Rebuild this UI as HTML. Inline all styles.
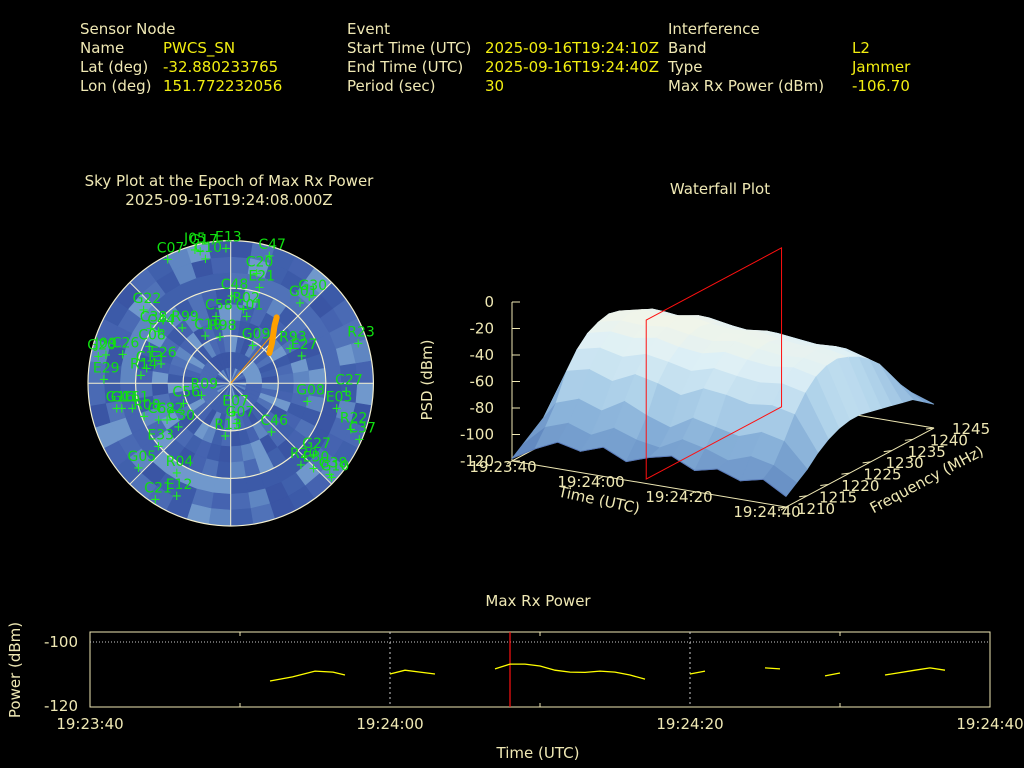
<!DOCTYPE html>
<html><head><meta charset="utf-8">
<style>
html,body{margin:0;padding:0;background:#000;}
svg{display:block;font-family:"DejaVu Sans","Liberation Sans",sans-serif;}
.lab{fill:#efe8b4;font-size:15px;}
.val{fill:#f2ee10;font-size:15px;}
.tk{fill:#efe8b4;font-size:15px;}
.sat{fill:#10e010;font-size:14px;}
</style></head>
<body>
<svg id="page" width="1024" height="768" viewBox="0 0 1024 768" xmlns="http://www.w3.org/2000/svg">
<rect width="1024" height="768" fill="#000"/>
<g>
 <text class="lab" x="80" y="34">Sensor Node</text>
 <text class="lab" x="80" y="53">Name</text>
 <text class="val" x="163" y="53">PWCS_SN</text>
 <text class="lab" x="80" y="72">Lat (deg)</text>
 <text class="val" x="163" y="72">-32.880233765</text>
 <text class="lab" x="80" y="91">Lon (deg)</text>
 <text class="val" x="163" y="91">151.772232056</text>
 <text class="lab" x="347" y="34">Event</text>
 <text class="lab" x="347" y="53">Start Time (UTC)</text>
 <text class="val" x="485" y="53">2025-09-16T19:24:10Z</text>
 <text class="lab" x="347" y="72">End Time (UTC)</text>
 <text class="val" x="485" y="72">2025-09-16T19:24:40Z</text>
 <text class="lab" x="347" y="91">Period (sec)</text>
 <text class="val" x="485" y="91">30</text>
 <text class="lab" x="668" y="34">Interference</text>
 <text class="lab" x="668" y="53">Band</text>
 <text class="val" x="852" y="53">L2</text>
 <text class="lab" x="668" y="72">Type</text>
 <text class="val" x="852" y="72">Jammer</text>
 <text class="lab" x="668" y="91">Max Rx Power (dBm)</text>
 <text class="val" x="852" y="91">-106.70</text>
</g>
<text class="lab" x="229" y="186" text-anchor="middle">Sky Plot at the Epoch of Max Rx Power</text>
<text class="lab" x="229" y="205" text-anchor="middle">2025-09-16T19:24:08.000Z</text>
<text class="lab" x="720" y="194" text-anchor="middle">Waterfall Plot</text>
<text class="lab" x="538" y="606" text-anchor="middle">Max Rx Power</text>
<g id="sky"></g>
<g id="wf"></g>
<g id="pw"></g>
</svg>
<script>
const NS="http://www.w3.org/2000/svg";
// ---- Sky plot data ----
const satNames=["C07","G17","C10","J05","E13","C47","C20","E21","C48","R02","C01","G30","G01","G22","C38","C44","R99","C58","C19","R98","G09","R93","E27","R23","G20","J09","C26","C08","E26","C13","R14","E29","R09","C56","C27","G08","E03","E07","G07","G16","G11","C61","R08","C62","C82","C30","R13","C46","E33","R22","C37","G27","R20","E30","G38","G10","G05","R04","C21","E12"];
const satAz=[333,347,348.5,345,358,16.9,13.3,16.7,0.7,9.7,13.5,42.4,40.7,310,304.5,305.5,318.7,347.6,331.8,347,30.3,59.5,69,72.6,281.4,282.8,285,294.3,285.5,280,275,271.8,247,247,94,103.4,103.3,175,171.5,257.6,257,255.7,249,243,240,230,185.8,140,228.8,111,113.5,131,139.3,135.8,132.7,133,227.4,211,213,205.6];
const satEl=[2.5,4.6,10,3,4.8,6.1,18.7,27,35,42.7,46.7,16.4,23,18.3,28.8,34,43.7,47,56,60,62.5,46.5,42,5.7,4.8,9.3,19.5,33.6,44.4,36.2,33.2,10,70,57.6,17,40.4,21.3,71.5,64.5,16.4,19.5,26,31.5,39,43.7,47,56.6,50,29.4,8.8,1.5,21,22,15,5,3,11,24,2.7,11.2];
const trailAz=[52,46,41,37,34.9];
const trailEl=[59,54,49,44,39.3];
// ---- Waterfall data ----
const wfTimes=[0,5,10,15,20,25,30,35,40,45,50,55,60];
const wfFreqs=[1210,1212.5,1215,1217.5,1220,1222.5,1225,1227.5,1230,1232.5,1235,1237.5,1240,1242.5,1245];
const wfPsd=[
[-118,-108,-100,-104,-98,-106,-100,-96,-104,-100,-106,-102,-112],
[-112,-96,-90,-96,-88,-94,-97,-88,-92,-98,-92,-96,-106],
[-106,-82,-76,-82,-72,-80,-86,-76,-80,-84,-78,-82,-100],
[-100,-62,-58,-64,-56,-60,-66,-58,-60,-64,-62,-66,-92],
[-96,-50,-46,-50,-45,-48,-52,-47,-50,-52,-50,-54,-86],
[-94,-42,-38,-40,-37,-41,-43,-39,-42,-44,-42,-46,-82],
[-92,-38,-34,-35,-33,-36,-38,-35,-38,-40,-39,-42,-80],
[-92,-36,-32,-33,-31,-34,-36,-34,-37,-39,-38,-41,-80],
[-94,-38,-34,-36,-33,-36,-38,-36,-39,-41,-40,-44,-82],
[-96,-42,-38,-40,-37,-40,-42,-40,-43,-44,-43,-48,-84],
[-98,-48,-44,-46,-43,-46,-48,-46,-48,-50,-49,-54,-86],
[-100,-60,-56,-58,-54,-58,-60,-56,-58,-60,-58,-62,-88],
[-102,-72,-68,-70,-66,-70,-72,-68,-70,-72,-70,-74,-90],
[-106,-82,-80,-82,-78,-82,-84,-80,-82,-84,-82,-86,-96],
[-110,-92,-90,-92,-89,-92,-94,-90,-92,-94,-92,-96,-102]];
const wfZTicks=[0,-20,-40,-60,-80,-100,-120];
const wfTimeTicks=[0,20,40,60];
const wfTimeLabels=["19:23:40","19:24:00","19:24:20","19:24:40"];
const wfFreqTicks=[1210,1215,1220,1225,1230,1235,1240,1245];
const markerTime=28;
// ---- Power data ----
const pwSegT=[[12,13.5,15,16.2,17],[20,21,22,23],[27,28,29,30,31,32,33,34,35,36,37],[40,41],[45,46],[49,50],[53,55,56,57]];
const pwSegV=[[-112.2,-110.9,-109.1,-109.4,-110.3],[-110,-108.8,-109.4,-110],[-108.4,-106.9,-106.9,-107.5,-108.8,-109.4,-109.5,-109.1,-109.4,-110.3,-111.6],[-110,-109.1],[-108.1,-108.4],[-110.6,-109.7],[-110.3,-108.8,-108.1,-108.8]];
const pwXTicks=[0,20,40,60];
const pwXLabels=["19:23:40","19:24:00","19:24:20","19:24:40"];
const pwYTicks=[-100,-120];

function mk(tag,attrs,parent){const e=document.createElementNS(NS,tag);for(const k in attrs)e.setAttribute(k,attrs[k]);parent.appendChild(e);return e;}

// ===== Sky plot =====
(function(){
 const g=document.getElementById('sky');
 const cx=230.7,cy=383.3,R=142.7;
 const pol=(az,el)=>{const r=R*(90-el)/90,a=az*Math.PI/180;return [cx+r*Math.sin(a),cy-r*Math.cos(a)];};
 const blues=["#3a55a4","#4563b0","#5072b8","#3c5aa8","#5f86c2","#4a6ab4","#7098cc","#4060ac"];
 for(let ri=0;ri<9;ri++){for(let ai=0;ai<40;ai++){
  const r0=R*ri/9,r1=R*(ri+1)/9,a0=ai*9,a1=a0+9.3;
  const p=(r,a)=>{const t=a*Math.PI/180;return (cx+r*Math.sin(t)).toFixed(1)+","+(cy-r*Math.cos(t)).toFixed(1);};
  const c=blues[(ai*7+ri*3+(ai*ri)%5)%8];
  const cell=mk('polygon',{points:[p(r0,a0),p(r1,a0),p(r1,(a0+a1)/2),p(r1,a1),p(r0,a1)].join(" "),fill:c,stroke:c,'stroke-width':0.6},g);
  
  
 }}
 [R,R*60/90,R*30/90].forEach(r=>{const c=mk('circle',{cx:cx,cy:cy,r:r,fill:'none',stroke:'#f4f0d0','stroke-width':1.2},g);
  });
 [0,45,90,135].forEach(a=>{const p1=pol(a,0),p2=pol(a+180,0);
  const l=mk('line',{x1:p1[0],y1:p1[1],x2:p2[0],y2:p2[1],stroke:'#f4f0d0','stroke-width':1},g);
  });
 const thin=mk('line',{x1:cx,y1:cy,x2:pol(40.5,50)[0],y2:pol(40.5,50)[1],stroke:'#ff9900','stroke-width':1},g);
 
 const pts=trailAz.map((a,i)=>pol(a,trailEl[i]).map(v=>v.toFixed(1)).join(",")).join(" ");
 const tr=mk('polyline',{points:pts,fill:'none',stroke:'#ffa000','stroke-width':6,'stroke-linecap':'round'},g);
 
 satNames.forEach((n,i)=>{const [x,y]=pol(satAz[i],satEl[i]);
  const m=mk('text',{x:x,y:y+4,'text-anchor':'middle',fill:'#20f020','font-size':13},g);m.textContent='+';
  
  const t=mk('text',{x:x-11,y:y-7,class:'sat'},g);t.textContent=n;
  });
})();

// ===== Waterfall =====
(function(){
 const g=document.getElementById('wf');
 const P=(t,f,z)=>[512+4.567*t+4.229*(f-1210),461+0.767*t-2.257*(f-1210)-1.325*(z+120)];
 const ax='#efe8b4';
 const line=(a,b,col,name,w)=>{const l=mk('line',{x1:a[0],y1:a[1],x2:b[0],y2:b[1],stroke:col,'stroke-width':w||1},g);
  return l;};
 line(P(0,1210,-120),P(60,1210,-120),ax,'time-axis');
 line(P(60,1210,-120),P(60,1245,-120),ax,'frequency-axis');
 line(P(0,1210,-120),P(0,1245,-120),ax,'base-left-edge');
 line(P(0,1245,-120),P(60,1245,-120),ax,'base-back-edge');
 line(P(0,1210,0),P(0,1210,-120),ax,'z-axis');
 wfZTicks.forEach(z=>{const p=P(0,1210,z);line(p,[p[0]+8,p[1]],ax,'z-tick');
  const t=mk('text',{x:494,y:p[1]+5,'text-anchor':'end',class:'tk'},g);t.textContent=z;
  });
 wfTimeTicks.forEach((tt,i)=>{const p=P(tt,1210,-120);line(p,[p[0]-5,p[1]+3],ax,'time-tick');
  const t=mk('text',{x:503+4.4*tt,y:472+0.75*tt,'text-anchor':'middle',class:'tk'},g);t.textContent=wfTimeLabels[i];
  });
 wfFreqTicks.forEach(f=>{const p=P(60,f,-120);line(p,[p[0]-8,p[1]+1],ax,'freq-tick');
  const t=mk('text',{x:816+4.43*(f-1210),y:514-2.29*(f-1210),'text-anchor':'middle',class:'tk'},g);t.textContent=f;
  });
 const col=z=>{const s=[[-115,[88,126,186]],[-90,[130,172,214]],[-65,[180,214,236]],[-45,[222,240,246]],[-30,[246,246,230]]];
  if(z<=s[0][0])return 'rgb('+s[0][1]+')';for(let i=1;i<s.length;i++){if(z<=s[i][0]){const u=(z-s[i-1][0])/(s[i][0]-s[i-1][0]);
  const c=s[i-1][1].map((v,k)=>Math.round(v+(s[i][1][k]-v)*u));return 'rgb('+c+')';}}return 'rgb('+s[4][1]+')';};
 for(let i=wfFreqs.length-2;i>=0;i--){for(let j=0;j<wfTimes.length-1;j++){
  const a=P(wfTimes[j],wfFreqs[i+1],wfPsd[i+1][j]),b=P(wfTimes[j+1],wfFreqs[i+1],wfPsd[i+1][j+1]),
        c=P(wfTimes[j+1],wfFreqs[i],wfPsd[i][j+1]),d=P(wfTimes[j],wfFreqs[i],wfPsd[i][j]);
  const z=(wfPsd[i][j]+wfPsd[i+1][j]+wfPsd[i][j+1]+wfPsd[i+1][j+1])/4;
  const cl=col(z);
  const q=mk('polygon',{points:[a,b,c,d].map(p=>p[0].toFixed(1)+","+p[1].toFixed(1)).join(" "),fill:cl,stroke:cl,'stroke-width':0.8},g);
  }}
 for(let j=0;j<wfTimes.length-1;j++){const a=P(wfTimes[j],1210,wfPsd[0][j]),b=P(wfTimes[j+1],1210,wfPsd[0][j+1]);
  const s=mk('line',{x1:a[0],y1:a[1],x2:b[0],y2:b[1],stroke:'#5a7ab8','stroke-width':1},g);
  }
 const rp=[P(markerTime,1211.5,-120),P(markerTime,1211.5,0),P(markerTime,1243.5,0),P(markerTime,1243.5,-120)];
 const red=mk('polygon',{points:rp.map(p=>p.join(",")).join(" "),fill:'none',stroke:'#ff1010','stroke-width':1},g);
 
 const t1=mk('text',{x:432,y:380,'text-anchor':'middle',class:'tk',transform:'rotate(-90 432 380)'},g);t1.textContent='PSD (dBm)';
 
 const t2=mk('text',{x:598,y:505,'text-anchor':'middle',class:'tk',transform:'rotate(12 598 505)'},g);t2.textContent='Time (UTC)';
 
 const t3=mk('text',{x:929,y:484,'text-anchor':'middle',class:'tk',transform:'rotate(-28 929 484)'},g);t3.textContent='Frequency (MHz)';
 
})();

// ===== Power plot =====
(function(){
 const g=document.getElementById('pw');
 const X0=90,X1=990,Y0=632,Y1=707;
 const xs=t=>X0+(X1-X0)*t/60, ys=v=>642+(-100-v)*3.2;
 const ax='#efe8b4';
 const f=mk('rect',{x:X0,y:Y0,width:X1-X0,height:Y1-Y0,fill:'none',stroke:ax,'stroke-width':1},g);
 
 const gl=mk('line',{x1:X0,y1:ys(-100),x2:X1,y2:ys(-100),stroke:'#cccccc','stroke-dasharray':'1,2'},g);
 
 pwXTicks.forEach((tt,i)=>{const x=xs(tt);
  if(i>0&&i<pwXTicks.length-1){const v=mk('line',{x1:x,y1:Y0,x2:x,y2:Y1,stroke:'#cccccc','stroke-dasharray':'2,3'},g);
   }
  const t=mk('text',{x:x,y:729,'text-anchor':'middle',class:'tk'},g);t.textContent=pwXLabels[i];
  });
 [10,30,50].forEach(tt=>{const x=xs(tt);
  const a=mk('line',{x1:x,y1:Y0,x2:x,y2:Y0+4,stroke:ax},g);
  const b=mk('line',{x1:x,y1:Y1,x2:x,y2:Y1-4,stroke:ax},g);});
 pwYTicks.forEach(v=>{const t=mk('text',{x:78,y:ys(v)+5,'text-anchor':'end',class:'tk'},g);t.textContent=v;
  });
 const red=mk('line',{x1:xs(markerTime),y1:Y0,x2:xs(markerTime),y2:Y1,stroke:'#ff1010','stroke-width':1.2},g);
 
 pwSegT.forEach((ts,k)=>{const p=ts.map((t,i)=>xs(t).toFixed(1)+","+ys(pwSegV[k][i]).toFixed(1)).join(" ");
  const l=mk('polyline',{points:p,fill:'none',stroke:'#ffff00','stroke-width':1.3},g);
  });
 const yt=mk('text',{x:20,y:670,'text-anchor':'middle',class:'tk',transform:'rotate(-90 20 670)'},g);yt.textContent='Power (dBm)';
 
 const xt=mk('text',{x:538,y:758,'text-anchor':'middle',class:'tk'},g);xt.textContent='Time (UTC)';
 
})();
</script>
</body></html>
